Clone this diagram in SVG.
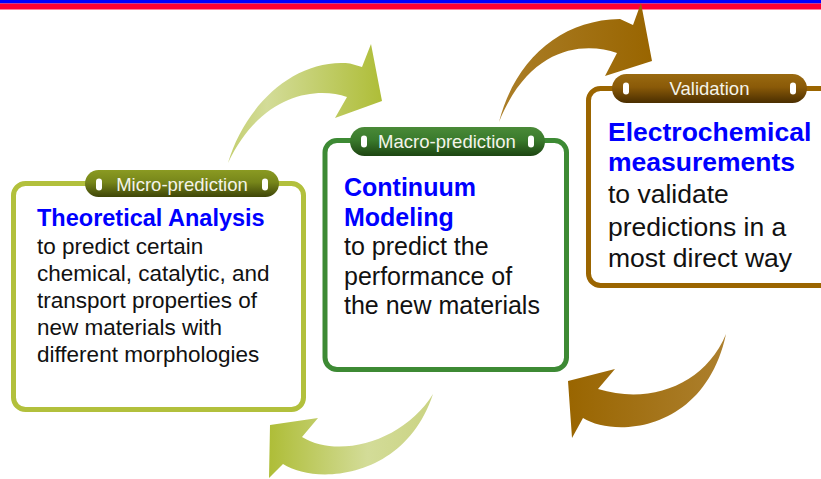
<svg xmlns="http://www.w3.org/2000/svg" width="821" height="479" viewBox="0 0 821 479">
<style>
.t{font-family:"Liberation Sans",Arial,sans-serif}
.tab{font-size:18.5px;fill:#f4f4ea;text-anchor:middle}
.h{font-weight:bold;fill:#0000ff}
.b{fill:#111}
.cap{fill:#ffffff}
.box{fill:#ffffff;stroke-width:5}
</style>
<defs>
<linearGradient id="gA" gradientUnits="userSpaceOnUse" x1="228" y1="0" x2="383" y2="0">
<stop offset="0" stop-color="#c3ce6e"/><stop offset="0.25" stop-color="#d3dc98"/><stop offset="1" stop-color="#aebd37"/>
</linearGradient>
<linearGradient id="gC" gradientUnits="userSpaceOnUse" x1="269" y1="0" x2="433" y2="0">
<stop offset="0" stop-color="#aebd37"/><stop offset="0.6" stop-color="#d3dc98"/><stop offset="1" stop-color="#cad383"/>
</linearGradient>
<linearGradient id="gB" gradientUnits="userSpaceOnUse" x1="499" y1="0" x2="653" y2="0">
<stop offset="0" stop-color="#ab7e28"/><stop offset="1" stop-color="#996500"/>
</linearGradient>
<linearGradient id="gD" gradientUnits="userSpaceOnUse" x1="567" y1="0" x2="726" y2="0">
<stop offset="0" stop-color="#996500"/><stop offset="1" stop-color="#ad802e"/>
</linearGradient>
<linearGradient id="tabOlive" x1="0" y1="0" x2="0" y2="1">
<stop offset="0" stop-color="#8a9a22"/><stop offset="0.45" stop-color="#77861a"/><stop offset="1" stop-color="#3e4508"/>
</linearGradient>
<linearGradient id="tabGreen" x1="0" y1="0" x2="0" y2="1">
<stop offset="0" stop-color="#4a8a38"/><stop offset="0.45" stop-color="#3a7a2c"/><stop offset="1" stop-color="#1d4512"/>
</linearGradient>
<linearGradient id="tabBrown" x1="0" y1="0" x2="0" y2="1">
<stop offset="0" stop-color="#9a6a10"/><stop offset="0.45" stop-color="#8a5a08"/><stop offset="1" stop-color="#4a2e00"/>
</linearGradient>
</defs>

<rect x="0" y="0" width="821" height="3.5" fill="#0000ff"/>
<rect x="0" y="3.5" width="821" height="6" fill="#ff0033"/>

<g id="connectors">
<path d="M228,163 C245,105 295,58 350,63.5 L362,67 L371,44 L382,101 L335,118 L347,97 C315,86 260,95 228,163 Z" fill="url(#gA)"/>
<path d="M499,122 C515,60 560,20 620,19 L633,25 L641,3 L652,61 L605,76 L617,53 C585,42 530,45 499,122 Z" fill="url(#gB)"/>
<path d="M433,394 C405,440 340,460 302,437 L318,418 L270,425 L269,478 L283,464 C315,485 405,480 433,394 Z" fill="url(#gC)"/>
<path d="M726,334 C705,385 650,405 598,389 L615,369 L568,381 L572,438 L583,418 C615,438 705,432 726,334 Z" fill="url(#gD)"/>
</g>

<g id="micro-prediction">
<rect class="box" x="13.5" y="183.5" width="290" height="226" rx="12" stroke="#b2c03c"/>
<rect x="85" y="170" width="194" height="27" rx="13.5" fill="url(#tabOlive)"/>
<rect class="cap" x="96" y="178.5" width="6" height="12" rx="3"/>
<rect class="cap" x="262" y="178.5" width="6" height="12" rx="3"/>
<text class="t tab" x="182" y="191">Micro-prediction</text>
<text class="t h" x="37" y="226" font-size="23.5">Theoretical Analysis</text>
<text class="t b" font-size="22.5">
<tspan x="37" y="254">to predict certain</tspan>
<tspan x="37" y="281">chemical, catalytic, and</tspan>
<tspan x="37" y="308">transport properties of</tspan>
<tspan x="37" y="335">new materials with</tspan>
<tspan x="37" y="362">different morphologies</tspan>
</text>
</g>

<g id="macro-prediction">
<rect class="box" x="325" y="140.5" width="241.5" height="229" rx="12" stroke="#3d8a34"/>
<rect x="350" y="127" width="195" height="29" rx="14.5" fill="url(#tabGreen)"/>
<rect class="cap" x="361" y="135.5" width="6" height="12" rx="3"/>
<rect class="cap" x="528" y="135.5" width="6" height="12" rx="3"/>
<text class="t tab" x="447" y="148">Macro-prediction</text>
<text class="t h" font-size="25">
<tspan x="344" y="196">Continuum</tspan>
<tspan x="344" y="225.5">Modeling</tspan>
</text>
<text class="t b" font-size="25">
<tspan x="344" y="255">to predict the</tspan>
<tspan x="344" y="284.5">performance of</tspan>
<tspan x="344" y="314">the new materials</tspan>
</text>
</g>

<g id="validation">
<rect class="box" x="588.5" y="88.5" width="300" height="197" rx="12" stroke="#9b6500"/>
<rect x="612" y="74" width="195" height="29" rx="14.5" fill="url(#tabBrown)"/>
<rect class="cap" x="623" y="82.5" width="6" height="12" rx="3"/>
<rect class="cap" x="790" y="82.5" width="6" height="12" rx="3"/>
<text class="t tab" x="709.5" y="95">Validation</text>
<text class="t h" font-size="26.5">
<tspan x="608" y="141">Electrochemical</tspan>
<tspan x="608" y="171">measurements</tspan>
</text>
<text class="t b" font-size="26.5">
<tspan x="608" y="203">to validate</tspan>
<tspan x="608" y="235.5">predictions in a</tspan>
<tspan x="608" y="267">most direct way</tspan>
</text>
</g>
</svg>
